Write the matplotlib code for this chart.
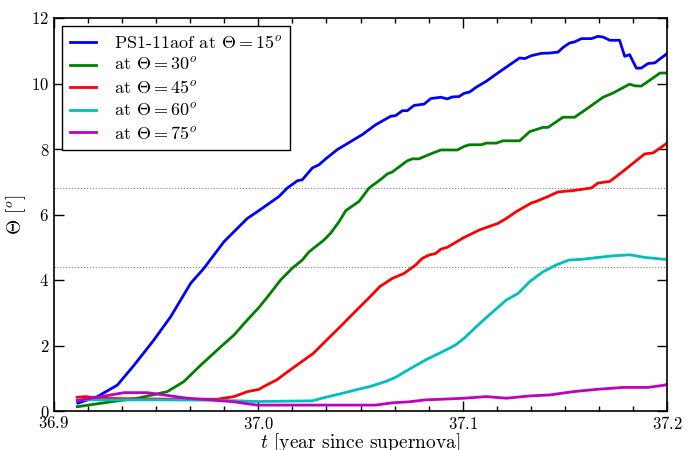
import matplotlib
matplotlib.use("Agg")
from matplotlib import pyplot as plt
from matplotlib.ticker import MultipleLocator

plt.rcParams['font.family'] = ['cmr10', 'DejaVu Serif']
plt.rcParams['mathtext.fontset'] = 'cm'
plt.rcParams['axes.formatter.use_mathtext'] = True

# Theta = 15 deg
t_15 = [36.9117, 36.9212, 36.9310, 36.9392, 36.9489, 36.9571, 36.9669, 36.9734, 36.9832, 36.9946,
        37.0003, 37.0101, 37.0142, 37.0191, 37.0215, 37.0264, 37.0297, 37.0330, 37.0386, 37.0509,
        37.0574, 37.0648, 37.0672, 37.0705, 37.0729, 37.0762, 37.0811, 37.0844, 37.0893, 37.0925,
        37.0949, 37.0982, 37.1007, 37.1034, 37.1067, 37.1116, 37.1165, 37.1230, 37.1279, 37.1304,
        37.1336, 37.1385, 37.1426, 37.1467, 37.1491, 37.1524, 37.1548, 37.1581, 37.1630, 37.1662,
        37.1687, 37.1720, 37.1768, 37.1793, 37.1817, 37.1850, 37.1874, 37.1907, 37.1940, 37.1989, 37.2]
th_15 = [0.24, 0.44, 0.79, 1.40, 2.17, 2.88, 3.90, 4.36, 5.17, 5.88,
         6.12, 6.55, 6.81, 7.03, 7.06, 7.42, 7.52, 7.70, 7.98, 8.44,
         8.74, 9.00, 9.02, 9.17, 9.17, 9.33, 9.37, 9.54, 9.58, 9.53,
         9.59, 9.60, 9.70, 9.74, 9.89, 10.07, 10.29, 10.57, 10.78, 10.76,
         10.85, 10.92, 10.93, 10.96, 11.10, 11.24, 11.27, 11.37, 11.37, 11.44,
         11.42, 11.32, 11.32, 10.83, 10.88, 10.47, 10.47, 10.61, 10.63, 10.86, 10.92]

# Theta = 30 deg
t_30 = [36.9114, 36.9277, 36.9408, 36.9554, 36.9636, 36.9718, 36.9816, 36.9881, 36.9946, 37.0003,
        37.0052, 37.0109, 37.0166, 37.0215, 37.0248, 37.0321, 37.0354, 37.0395, 37.0428, 37.0493,
        37.0542, 37.0607, 37.0631, 37.0656, 37.0729, 37.0754, 37.0786, 37.0835, 37.0893, 37.0974,
        37.1007, 37.1034, 37.1091, 37.1116, 37.1165, 37.1197, 37.1279, 37.1328, 37.1393, 37.1418,
        37.1491, 37.1548, 37.1613, 37.1687, 37.1736, 37.1817, 37.1842, 37.1874, 37.1966, 37.2]
th_30 = [0.13, 0.28, 0.39, 0.59, 0.90, 1.40, 1.96, 2.32, 2.78, 3.16,
         3.54, 4.00, 4.36, 4.61, 4.86, 5.22, 5.43, 5.78, 6.12, 6.40,
         6.81, 7.11, 7.24, 7.30, 7.64, 7.70, 7.70, 7.83, 7.97, 7.97,
         8.08, 8.13, 8.13, 8.18, 8.18, 8.25, 8.25, 8.53, 8.66, 8.66,
         8.97, 8.97, 9.25, 9.58, 9.71, 9.98, 9.93, 9.92, 10.32, 10.32]

# Theta = 45 deg
t_45 = [36.9114, 36.9155, 36.9212, 36.9400, 36.9600, 36.9701, 36.9799, 36.9881, 36.9946, 37.0003,
        37.0024, 37.0090, 37.0155, 37.0269, 37.0335, 37.0400, 37.0465, 37.0547, 37.0595, 37.0656,
        37.0713, 37.0770, 37.0802, 37.0835, 37.0868, 37.0893, 37.0925, 37.1007, 37.1083, 37.1173,
        37.1214, 37.1263, 37.1336, 37.1360, 37.1418, 37.1467, 37.1540, 37.1630, 37.1662, 37.1720,
        37.1785, 37.1891, 37.1932, 37.1989, 37.2]
th_45 = [0.42, 0.44, 0.39, 0.37, 0.36, 0.36, 0.36, 0.44, 0.59, 0.66,
         0.74, 0.95, 1.25, 1.76, 2.17, 2.57, 2.98, 3.49, 3.80, 4.05,
         4.20, 4.46, 4.66, 4.76, 4.81, 4.94, 5.00, 5.30, 5.53, 5.73,
         5.88, 6.09, 6.35, 6.40, 6.55, 6.69, 6.73, 6.81, 6.96, 7.01,
         7.32, 7.85, 7.88, 8.13, 8.18]

# Theta = 60 deg
t_60 = [36.9114, 36.9500, 36.9800, 36.9995, 37.0264, 37.0330, 37.0411, 37.0493, 37.0542, 37.0623,
        37.0672, 37.0737, 37.0819, 37.0917, 37.0966, 37.1007, 37.1083, 37.1148, 37.1214, 37.1271,
        37.1328, 37.1393, 37.1458, 37.1520, 37.1581, 37.1720, 37.1817, 37.1891, 37.1989, 37.2]
th_60 = [0.34, 0.34, 0.33, 0.29, 0.31, 0.42, 0.54, 0.67, 0.74, 0.90,
         1.03, 1.27, 1.56, 1.86, 2.02, 2.22, 2.67, 3.03, 3.39, 3.59,
         3.95, 4.25, 4.46, 4.61, 4.63, 4.73, 4.77, 4.69, 4.63, 4.63]

# Theta = 75 deg
t_75 = [36.9114, 36.9212, 36.9343, 36.9457, 36.9538, 36.9652, 36.9767, 36.9881, 36.9995, 37.0574,
        37.0656, 37.0737, 37.0819, 37.0900, 37.1007, 37.1116, 37.1214, 37.1328, 37.1426, 37.1540,
        37.1654, 37.1785, 37.1907, 37.1989, 37.2]
th_75 = [0.32, 0.42, 0.56, 0.56, 0.49, 0.39, 0.34, 0.28, 0.18, 0.18,
         0.25, 0.28, 0.34, 0.36, 0.39, 0.44, 0.39, 0.46, 0.49, 0.59,
         0.66, 0.72, 0.72, 0.79, 0.82]

hlines = [6.8, 4.4]

fig = plt.figure(figsize=(6.94, 4.5), dpi=100)
ax = fig.add_axes([54/694, 39/450, 613/694, 393/450])

for y in hlines:
    ax.axhline(y, color='gray', ls=':', lw=0.8)

ax.plot(t_15, th_15, 'b', lw=2, label=r'PS1-11aof at $\Theta=15^o$')
ax.plot(t_30, th_30, 'g', lw=2, label=r'at $\Theta=30^o$')
ax.plot(t_45, th_45, 'r', lw=2, label=r'at $\Theta=45^o$')
ax.plot(t_60, th_60, 'c', lw=2, label=r'at $\Theta=60^o$')
ax.plot(t_75, th_75, 'm', lw=2, label=r'at $\Theta=75^o$')

ax.set_xlim(36.9, 37.2)
ax.set_ylim(0, 12)
ax.xaxis.set_major_locator(MultipleLocator(0.1))
ax.xaxis.set_minor_locator(MultipleLocator(0.1/6))
ax.yaxis.set_major_locator(MultipleLocator(2))
ax.tick_params(which='both', direction='in', top=True, right=True, labelsize=12)
ax.tick_params(which='major', length=7, width=1)
ax.tick_params(which='minor', length=3.6, width=1)
ax.tick_params(axis='x', pad=3)
for s in ax.spines.values():
    s.set_linewidth(1.2)

ax.set_xlabel(r'$t$ [year since supernova]', fontsize=14, labelpad=-0.5)
ax.set_ylabel(r'$\Theta$ [$^o$]', fontsize=14, labelpad=2)

leg = ax.legend(loc='upper left', fontsize=13, fancybox=False, framealpha=1,
                edgecolor='black', handlelength=1.45, handletextpad=0.95,
                borderaxespad=0.45, borderpad=0.45, labelspacing=0.3)
leg.get_frame().set_linewidth(1)

fig.savefig('out.png', dpi=100)
